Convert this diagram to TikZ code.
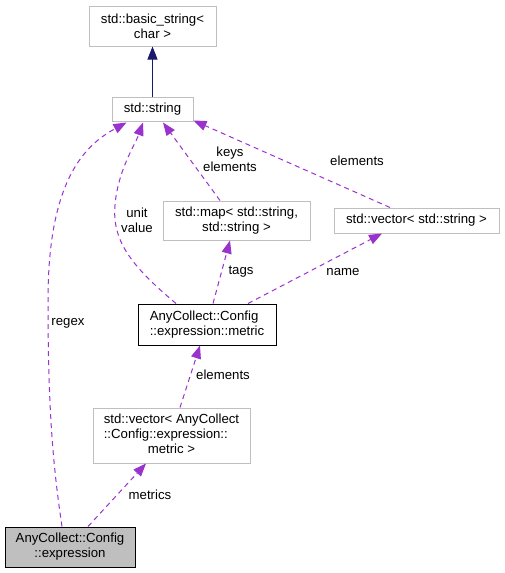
\documentclass[tikz,border=0pt]{standalone}
\usepackage{fontspec}
\setmainfont{Liberation Sans}
\usetikzlibrary{arrows.meta}
\definecolor{edgepurple}{RGB}{154,50,205}
\definecolor{edgenavy}{RGB}{25,25,112}
\definecolor{boxgray}{RGB}{191,191,191}
\begin{document}
\begin{tikzpicture}[x=1pt,y=-1pt,
  every node/.style={font=\fontsize{13.2}{15}\selectfont},
  cls/.style={draw=boxgray, line width=1pt, fill=white, inner sep=0pt, align=center},
  clsdark/.style={draw=black, line width=1pt, inner sep=0pt},
  usage/.style={draw=edgepurple, line width=1pt, dash pattern=on 5pt off 4pt, -{Triangle[length=13pt,width=10pt]}},
  inherit/.style={draw=edgenavy, line width=1pt, -{Triangle[length=13pt,width=10pt]}},
  lbl/.style={inner sep=0pt, align=center}]
\useasboundingbox (0,0) rectangle (504,573);
\fill[white] (0,0) rectangle (504,573);

% nodes
\node[cls, minimum width=127pt, minimum height=40pt] (bstr) at (152.5,26) {std::basic\_string<\\char >};
\node[cls, minimum width=81pt, minimum height=24pt] (str) at (152.5,109) {std::string};
\node[cls, minimum width=147pt, minimum height=39pt] (map) at (236.5,220.5) {std::map< std::string,\\std::string >};
\node[cls, minimum width=165pt, minimum height=25pt] (vstr) at (416.5,220.5) {std::vector< std::string >};
\node[clsdark, fill=white, minimum width=138pt, minimum height=41pt, align=left] (metric) at (207,324.5) {AnyCollect::Config\\::expression::metric};
\node[cls, minimum width=157pt, minimum height=55pt] (vmetric) at (171.5,435.5)
  {\begin{tabular}{@{}l@{}}std::vector< AnyCollect\\::Config::expression::\\\multicolumn{1}{@{}c@{}}{metric >}\end{tabular}};
\node[clsdark, fill=boxgray, minimum width=130pt, minimum height=40pt, align=center] (expr) at (70,547) {AnyCollect::Config\\::expression};

% inheritance
\draw[inherit] (str.north) -- (bstr.south);

% usage edges
\draw[usage] ([xshift=-8pt]expr.north) .. controls (52,460) and (48,400) .. (48,300)
  .. controls (48,180) and (85,145) .. ([xshift=-26pt,yshift=-1pt]str.south);
\node[lbl] (lregex) at (68,323) {regex};

\draw[usage] ([xshift=-31pt]metric.north) .. controls (130,265) and (112,240) .. (115,205)
  .. controls (118,170) and (135,145) .. ([xshift=-9.5pt,yshift=-1pt]str.south);
\node[lbl] (lunit) at (137,220) {unit\\value};

\draw[usage] ([xshift=-16.5pt]map.north) -- ([xshift=10.5pt,yshift=-1pt]str.south);
\node[lbl] (lkeys) at (230,159) {keys\\elements};

\draw[usage] ([xshift=-26.5pt]vstr.north) -- ([yshift=1pt]str.south east);
\node[lbl] (lelem1) at (357,161) {elements};

\draw[usage] ([xshift=6pt]metric.north) -- ([xshift=-6.5pt]map.south);
\node[lbl] (ltags) at (241,272) {tags};

\draw[usage] ([xshift=41pt]metric.north) -- ([xshift=-34.5pt]vstr.south);
\node[lbl] (lname) at (343,272) {name};

\draw[usage] ([xshift=8.5pt]vmetric.north) -- ([xshift=-7pt]metric.south);
\node[lbl] (lelem2) at (223,375) {elements};

\draw[usage] ([xshift=18pt]expr.north) -- ([xshift=-25.5pt]vmetric.south);
\node[lbl] (lmetrics) at (150,495) {metrics};
\end{tikzpicture}
\end{document}
